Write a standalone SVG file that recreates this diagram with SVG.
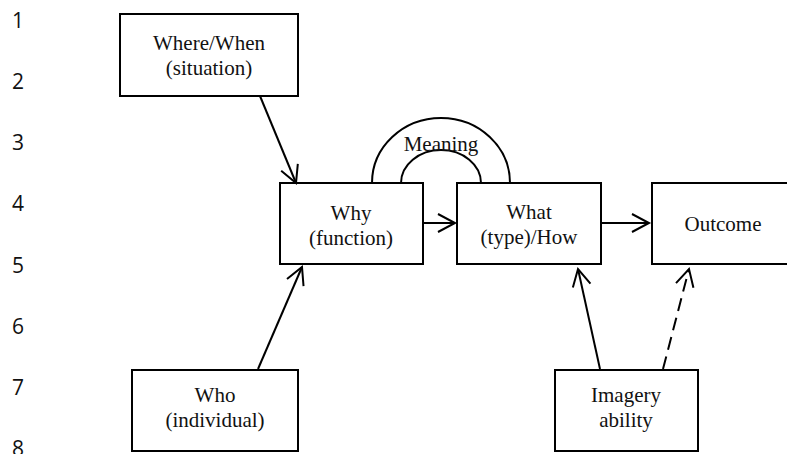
<svg xmlns="http://www.w3.org/2000/svg" width="787" height="454" viewBox="0 0 787 454">
<style>
.box{fill:#fff;stroke:#000;stroke-width:2}
.t{font-family:'Liberation Serif','DejaVu Serif','Times New Roman',serif;font-size:21px;fill:#111;text-anchor:middle}
.n{font-family:'Open Sans','Liberation Sans',sans-serif;font-size:21px;fill:#111}
.c{fill:none;stroke:#000;stroke-width:2}
</style>
<defs>
<marker id="ah" markerUnits="userSpaceOnUse" markerWidth="24" markerHeight="24" refX="18" refY="10" orient="auto" viewBox="0 0 24 20">
<path d="M1,1 L18,10 L1,19" fill="none" stroke="#000" stroke-width="2"/>
</marker>
</defs>
<g id="line-numbers">
<text class="n" x="12" y="28">1</text>
<text class="n" x="12" y="89">2</text>
<text class="n" x="12" y="150">3</text>
<text class="n" x="12" y="211">4</text>
<text class="n" x="12" y="273">5</text>
<text class="n" x="12" y="334">6</text>
<text class="n" x="12" y="395">7</text>
<text class="n" x="12" y="456">8</text>
</g>
<g id="meaning" font-family="Liberation Serif, serif">
<path class="c" d="M372,183 A69,65 0 0 1 510,183"/>
<path class="c" d="M401,183 A40,33 0 0 1 481,183"/>
<text class="t" x="441" y="151">Meaning</text>
</g>
<g id="where-when">
<rect class="box" x="120" y="14" width="178" height="82"/>
<text class="t" x="209" y="50">Where/When</text>
<text class="t" x="209" y="75">(situation)</text>
</g>
<g id="why">
<rect class="box" x="280" y="183" width="143" height="81"/>
<text class="t" x="351" y="220">Why</text>
<text class="t" x="351" y="245">(function)</text>
</g>
<g id="what">
<rect class="box" x="457" y="183" width="144" height="81"/>
<text class="t" x="529" y="219">What</text>
<text class="t" x="529" y="244">(type)/How</text>
</g>
<g id="outcome">
<rect class="box" x="652" y="183" width="145" height="81"/>
<text class="t" x="723" y="231">Outcome</text>
</g>
<g id="who">
<rect class="box" x="132" y="370" width="166" height="81"/>
<text class="t" x="215" y="402">Who</text>
<text class="t" x="215" y="427">(individual)</text>
</g>
<g id="imagery">
<rect class="box" x="555" y="370" width="143" height="81"/>
<text class="t" x="626" y="402">Imagery</text>
<text class="t" x="626" y="427">ability</text>
</g>
<g id="connectors">
<line class="c" x1="260" y1="96" x2="296" y2="183" marker-end="url(#ah)"/>
<line class="c" x1="258" y1="369" x2="302" y2="267" marker-end="url(#ah)"/>
<line class="c" x1="423" y1="223" x2="455" y2="223" marker-end="url(#ah)"/>
<line class="c" x1="601" y1="223" x2="649" y2="223" marker-end="url(#ah)"/>
<line class="c" x1="600" y1="369" x2="578" y2="269" marker-end="url(#ah)"/>
<line class="c" x1="663" y1="369" x2="689" y2="269" stroke-dasharray="13,7" marker-end="url(#ah)"/>
</g>
</svg>
